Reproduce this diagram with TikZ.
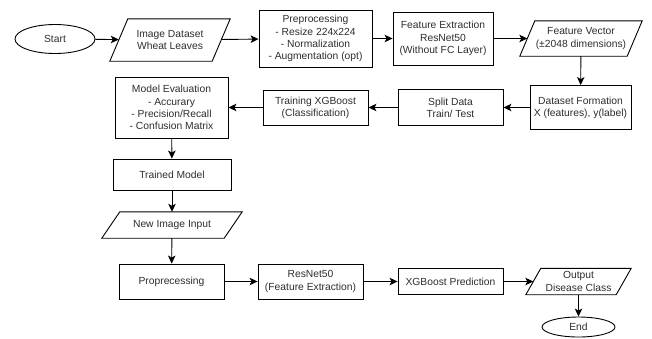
\documentclass[tikz,border=0pt]{standalone}
\usepackage{fontspec}
\setmainfont{Liberation Sans}
\usetikzlibrary{shapes.geometric,arrows.meta}
\definecolor{ink}{RGB}{45,45,45}
\begin{document}
\begin{tikzpicture}[x=1pt,y=-1pt,
  every node/.style={font=\fontsize{10.3}{12.2}\selectfont, text=ink, align=center, inner sep=0pt},
  box/.style={draw=black, line width=0.9pt, rectangle},
  term/.style={draw=black, line width=0.9pt, ellipse},
  slant/.style={rectangle},
  flow/.style={draw=black, line width=0.9pt, -{Stealth[length=8pt,width=7.5pt,inset=2pt]}}
]
\useasboundingbox (0,0) rectangle (652,338);

% top row
\node[term, minimum width=80, minimum height=29] (start) at (55,39) {Start};
\node[slant, minimum width=102, minimum height=42] (imgdata) at (170,40) {Image Dataset\\Wheat Leaves};
\node[box, minimum width=113, minimum height=57] (preproc) at (315.5,38.5) {Preprocessing\\- Resize 224x224\\- Normalization\\- Augmentation (opt)};
\node[box, minimum width=100, minimum height=53] (featext) at (443,38.5) {Feature Extraction\\ResNet50\\(Without FC Layer)};
\node[slant, minimum width=107, minimum height=35] (featvec) at (581,38.5) {Feature Vector\\(±2048 dimensions)};

% second row
\node[box, minimum width=101, minimum height=44] (dsform) at (580.5,107.5) {Dataset Formation\\X (features), y(label)};
\node[box, minimum width=105, minimum height=36] (split) at (450.5,107.5) {Split Data\\Train/ Test};
\node[box, minimum width=105, minimum height=35] (train) at (315.5,107.5) {Training XGBoost\\(Classification)};
\node[box, minimum width=113, minimum height=61] (modeleval) at (171.5,107.5) {Model Evaluation\\- Accurary\\- Precision/Recall\\- Confusion Matrix};

% left column
\node[box, minimum width=118, minimum height=31] (trained) at (172,174.5) {Trained Model};
\node[slant, minimum width=122, minimum height=26] (newimg) at (172,225) {New Image Input};

% bottom row
\node[box, minimum width=105, minimum height=35] (proprec) at (171.5,281.5) {Proprecessing};
\node[box, minimum width=105, minimum height=35] (resnet) at (310.5,281.5) {ResNet50\\(Feature Extraction)};
\node[box, minimum width=105, minimum height=26] (xgbpred) at (450.5,281.5) {XGBoost Prediction};
\node[slant, minimum width=90, minimum height=26] (output) at (578.5,281.5) {Output\\Disease Class};
\node[term, minimum width=73, minimum height=20] (end) at (578.5,327) {End};

% parallelogram outlines around the slanted nodes
\foreach \n/\s in {imgdata/9, featvec/7.5, newimg/9, output/7.5}
  \draw[black, line width=0.9pt]
    ([xshift=\s]\n.north west) -- ([xshift=\s]\n.north east) --
    ([xshift=-\s]\n.south east) -- ([xshift=-\s]\n.south west) -- cycle;

% connectors
\draw[flow] (start) -- (imgdata);
\draw[flow] (imgdata) -- (preproc);
\draw[flow] (preproc) -- (featext);
\draw[flow] (featext) -- (featvec);
\draw[flow] (featvec) -- (dsform);
\draw[flow] (dsform) -- (split);
\draw[flow] (split) -- (train);
\draw[flow] (train) -- (modeleval);
\draw[flow] (modeleval) -- (trained);
\draw[flow] (trained) -- (newimg);
\draw[flow] (newimg) -- (proprec);
\draw[flow] (proprec) -- (resnet);
\draw[flow] (resnet) -- (xgbpred);
\draw[flow] (xgbpred) -- (output);
\draw[flow] (output) -- (end);
\end{tikzpicture}
\end{document}
